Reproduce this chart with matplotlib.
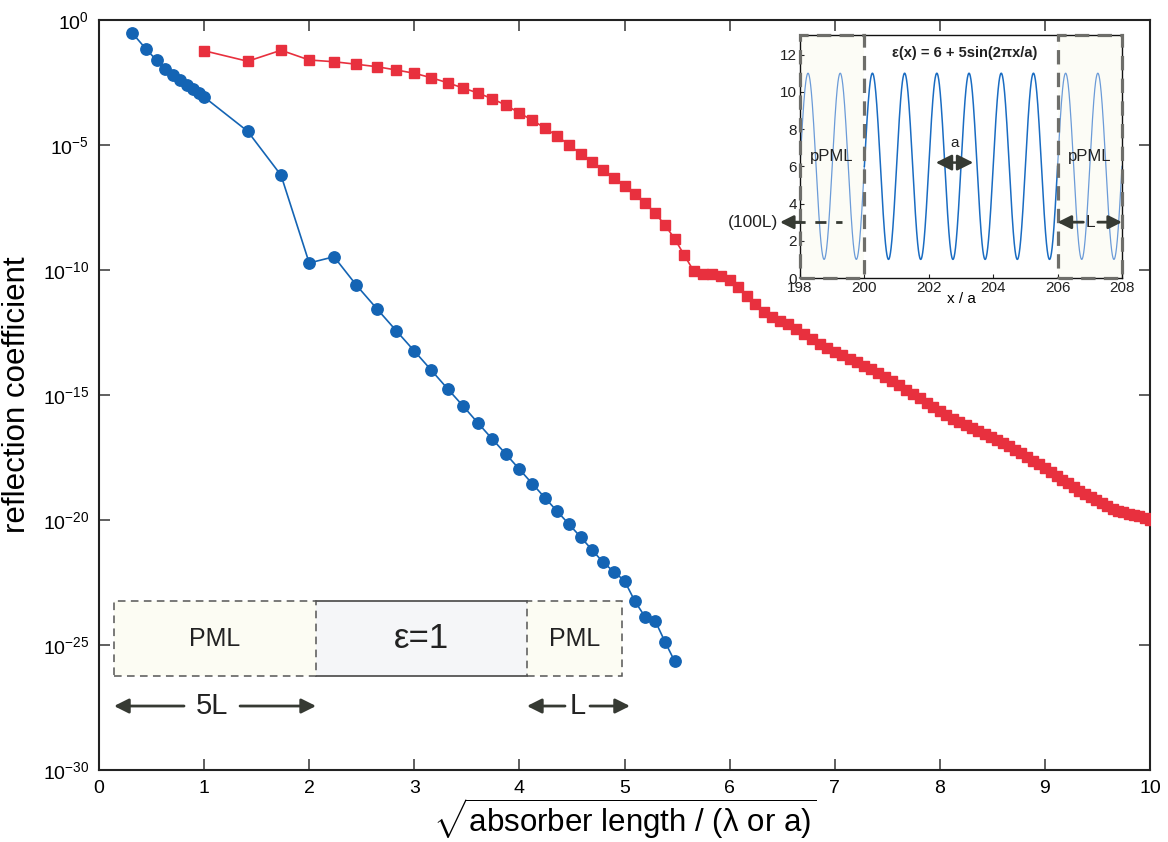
import numpy as np
import matplotlib
matplotlib.use("Agg")
import matplotlib.pyplot as plt
from matplotlib.patches import Rectangle
from matplotlib.ticker import FixedLocator, LogFormatterSciNotation

plt.rcParams['font.family'] = ['Liberation Sans', 'DejaVu Sans']
plt.rcParams['mathtext.fontset'] = 'custom'
plt.rcParams['mathtext.rm'] = 'Liberation Sans'
plt.rcParams['mathtext.it'] = 'Liberation Sans:italic'
plt.rcParams['mathtext.bf'] = 'Liberation Sans:bold'

# ---- data: absorber length (in units of lambda or a) and log10 of reflection ----
pml_length = [0.1, 0.2, 0.3, 0.4, 0.5, 0.6, 0.7, 0.8, 0.9, 1.0,
              2, 3, 4, 5, 6, 7, 8, 9, 10, 11, 12, 13, 14, 15, 16, 17, 18, 19, 20,
              21, 22, 23, 24, 25, 26, 27, 28, 29, 30]
pml_log_refl = [-0.52, -1.16, -1.61, -1.95, -2.21, -2.41, -2.61, -2.77, -2.93, -3.08,
                -4.45, -6.21, -9.72, -9.47, -10.61, -11.56, -12.43, -13.24, -14.01,
                -14.75, -15.44, -16.12, -16.76, -17.37, -17.97, -18.55, -19.11, -19.65,
                -20.17, -20.68, -21.19, -21.69, -22.07, -22.43, -23.25, -23.88, -24.03,
                -24.87, -25.65]

ppml_length = list(range(1, 101))
ppml_log_refl = [-1.23, -1.65, -1.21, -1.60, -1.67, -1.77, -1.87, -2.00, -2.13, -2.31,
                 -2.51, -2.72, -2.92, -3.15, -3.41, -3.72, -4.01, -4.32, -4.64, -5.00,
                 -5.35, -5.69, -6.00, -6.33, -6.63, -6.95, -7.31, -7.73, -8.20, -8.75,
                 -9.40, -10.03, -10.16, -10.15, -10.23, -10.40, -10.68, -11.03, -11.37, -11.67,
                 -11.89, -12.03, -12.17, -12.36, -12.56, -12.75, -12.95, -13.12, -13.28, -13.41,
                 -13.55, -13.68, -13.83, -13.97, -14.12, -14.29, -14.45, -14.61, -14.79, -14.95,
                 -15.12, -15.31, -15.48, -15.64, -15.80, -15.95, -16.08, -16.20, -16.32, -16.44,
                 -16.56, -16.67, -16.79, -16.92, -17.05, -17.19, -17.33, -17.48, -17.63, -17.77,
                 -17.92, -18.08, -18.24, -18.39, -18.53, -18.68, -18.83, -18.96, -19.08, -19.20,
                 -19.31, -19.44, -19.56, -19.65, -19.68, -19.75, -19.80, -19.85, -19.91, -19.99]

y_ticks = [1e0, 1e-5, 1e-10, 1e-15, 1e-20, 1e-25, 1e-30]
x_ticks = [0, 1, 2, 3, 4, 5, 6, 7, 8, 9, 10]

# inset: periodic dielectric eps(x) = eps_mean + eps_amp*sin(2 pi x / a)
eps_mean = 6
eps_amp = 5
inset_xticks = [198, 200, 202, 204, 206, 208]
inset_yticks = [0, 2, 4, 6, 8, 10, 12]

BLUE = '#1464b4'
RED = '#e8303e'
DARK = '#363a33'

fig = plt.figure(figsize=(11.68, 8.42), dpi=100)
ax = fig.add_axes([0.08476, 0.08551, 0.89983, 0.89074])

ax.plot(np.sqrt(pml_length), 10.0 ** np.array(pml_log_refl), '-o', color=BLUE,
        lw=1.2, ms=8.2, mec=BLUE, mfc=BLUE, zorder=4)
ax.plot(np.sqrt(ppml_length), 10.0 ** np.array(ppml_log_refl), '-s', color=RED,
        lw=1.2, ms=6.8, mec=RED, mfc=RED, zorder=4)

ax.set_yscale('log')
ax.set_xlim(0, 10)
ax.set_ylim(1e-30, 1e0)
ax.yaxis.set_major_locator(FixedLocator(y_ticks))
ax.yaxis.set_major_formatter(LogFormatterSciNotation())
ax.yaxis.set_minor_locator(FixedLocator([]))
ax.set_xticks(x_ticks)
ax.tick_params(which='major', direction='in', length=8, width=1.2, color='#444444',
               top=True, right=True, labelsize=14, pad=7)
for s in ax.spines.values():
    s.set_linewidth(1.5)
    s.set_color('#222222')

ax.set_ylabel('reflection coefficient', fontsize=22.5, labelpad=8)
ax.set_xlabel(r'$\sqrt{\mathrm{absorber\ length\ /\ (λ\ or\ a)}}$', fontsize=22.5, labelpad=0)

# ---- schematic of the simulation cell (axes fraction coords) ----
T = ax.transAxes
y0, y1 = 0.1253, 0.2253
xa, xb, xc, xd = 0.0143, 0.2065, 0.4072, 0.4976
ax.add_patch(Rectangle((xb, y0), xc - xb, y1 - y0, transform=T, facecolor='#f5f6f8',
                       edgecolor='none', zorder=2))
ax.plot([xb, xc], [y0, y0], transform=T, color='#555555', lw=1.3, zorder=3)
ax.plot([xb, xc], [y1, y1], transform=T, color='#555555', lw=1.3, zorder=3)
for l, r in [(xa, xb), (xc, xd)]:
    ax.add_patch(Rectangle((l, y0), r - l, y1 - y0, transform=T, facecolor='#fcfcf3',
                           edgecolor='#555555', lw=1.1, ls=(0, (5, 3.5)), zorder=3))
ym = 0.5 * (y0 + y1)
ax.text(0.5 * (xa + xb), ym, 'PML', transform=T, ha='center', va='center',
        fontsize=18, color='#222222', zorder=5)
ax.text(0.5 * (xc + xd), ym, 'PML', transform=T, ha='center', va='center',
        fontsize=18, color='#222222', zorder=5)
ax.text(0.5 * (xb + xc), ym, 'ε=1', transform=T, ha='center', va='center',
        fontsize=25, color='#222222', zorder=5)

ya = 0.0853
arrow_kw = dict(arrowstyle='-|>', color=DARK, lw=2.0, mutation_scale=22,
                shrinkA=0, shrinkB=0)
ax.annotate('', xy=(xa, ya), xytext=(0.0809, ya), xycoords=T, textcoords=T, arrowprops=arrow_kw)
ax.annotate('', xy=(xb, ya), xytext=(0.1342, ya), xycoords=T, textcoords=T, arrowprops=arrow_kw)
ax.text(0.1075, ya, '5L', transform=T, ha='center', va='center', fontsize=21, color='#222222')
ax.annotate('', xy=(xc, ya), xytext=(0.4434, ya), xycoords=T, textcoords=T, arrowprops=arrow_kw)
ax.annotate('', xy=(0.5052, ya), xytext=(0.4672, ya), xycoords=T, textcoords=T, arrowprops=arrow_kw)
ax.text(0.4553, ya, 'L', transform=T, ha='center', va='center', fontsize=21, color='#222222')

# ---- inset: dielectric profile with pPML regions ----
ins = fig.add_axes([0.6849, 0.6698, 0.2757, 0.2886])
xs = np.linspace(198, 208, 2001)
eps = eps_mean + eps_amp * np.sin(2 * np.pi * xs)
mid = (xs >= 200) & (xs <= 206)
ins.plot(xs[xs <= 200], eps[xs <= 200], color='#6b9bd8', lw=0.9, zorder=2)
ins.plot(xs[xs >= 206], eps[xs >= 206], color='#6b9bd8', lw=0.9, zorder=2)
ins.plot(xs[mid], eps[mid], color='#1a6cc2', lw=1.1, zorder=2)
ins.set_xlim(198, 208)
ins.set_ylim(0, 13.05)
ins.set_xticks(inset_xticks)
ins.set_yticks(inset_yticks)
ins.tick_params(direction='in', length=3, width=0.8, labelsize=11, pad=2, colors='#222222')
for s in ins.spines.values():
    s.set_linewidth(1.0)
    s.set_color('#111111')
ins.set_xlabel('x / a', fontsize=11, labelpad=-2)

for l, r in [(198, 200), (206, 208)]:
    ins.add_patch(Rectangle((l, 0), r - l, 13.05, facecolor='#fbfbf0', alpha=0.55,
                            edgecolor='none', zorder=1.5))
    ins.add_patch(Rectangle((l, 0), r - l, 13.05, facecolor='none', edgecolor='#6e6e6a',
                            lw=2.3, ls=(0, (4.5, 2.6)), zorder=5, clip_on=False))
    ins.text(0.5 * (l + r), 6.5, 'pPML', ha='center', va='center', fontsize=12,
             color='#222222', zorder=6)

ins.text(203.1, 12.1, 'ε(x) = 6 + 5sin(2πx/a)', ha='center', va='center',
         fontsize=10.5, fontweight='bold', color='#222222', zorder=6)

ins.annotate('', xy=(202.22, 6.2), xytext=(203.38, 6.2),
             arrowprops=dict(arrowstyle='<|-|>', color=DARK, lw=1.8, mutation_scale=24,
                             shrinkA=0, shrinkB=0), zorder=6)
ins.text(202.8, 6.85, 'a', ha='center', va='bottom', fontsize=11, color='#222222')

small_arrow = dict(arrowstyle='-|>', color=DARK, lw=2.0, mutation_scale=20,
                   shrinkA=0, shrinkB=0)
ins.plot([197.8, 199.3], [3, 3], color=DARK, lw=2.0, ls=(0, (4, 3.5)),
         clip_on=False, zorder=6)
ins.annotate('', xy=(197.38, 3), xytext=(198.0, 3), arrowprops=small_arrow,
             annotation_clip=False, zorder=6)
ins.text(197.32, 3, '(100L)', ha='right', va='center', fontsize=12.5, color='#222222')

ins.annotate('', xy=(206.0, 3), xytext=(206.8, 3), arrowprops=small_arrow, zorder=6)
ins.annotate('', xy=(208.0, 3), xytext=(207.25, 3), arrowprops=small_arrow,
             annotation_clip=False, zorder=6)
ins.text(207.03, 3, 'L', ha='center', va='center', fontsize=12.5, color='#222222', zorder=6)

fig.savefig('out.png', dpi=100)
